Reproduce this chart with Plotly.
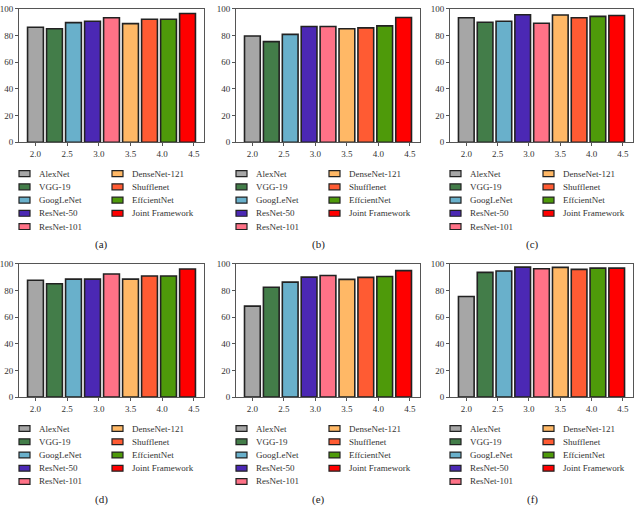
import plotly.graph_objects as go

W, H = 635, 510

models = ["AlexNet", "VGG-19", "GoogLeNet", "ResNet-50", "ResNet-101",
          "DenseNet-121", "Shufflenet", "EffcientNet", "Joint Framework"]
colors = ["#a6a6a6", "#437d49", "#69b0cb", "#4b28b4", "#ff7287",
          "#ffb866", "#ff5b33", "#4e9a0a", "#ff0000"]
bar_x = [2.0, 2.3, 2.6, 2.9, 3.2, 3.5, 3.8, 4.1, 4.4]
tick_vals = [2.0, 2.5, 3.0, 3.5, 4.0, 4.5]
tick_text = ["2.0", "2.5", "3.0", "3.5", "4.0", "4.5"]

acc_a = [86.3, 85.1, 89.7, 90.7, 93.4, 89.0, 92.2, 92.2, 96.6]
acc_b = [79.7, 75.5, 80.9, 86.8, 86.8, 85.1, 85.8, 87.3, 93.6]
acc_c = [93.4, 90.0, 90.7, 95.6, 89.2, 95.4, 93.4, 94.4, 95.1]
acc_d = [87.7, 85.0, 88.5, 88.5, 92.4, 88.5, 90.9, 90.9, 96.1]
acc_e = [68.3, 82.4, 86.3, 90.0, 91.2, 88.3, 89.8, 90.5, 94.9]
acc_f = [75.5, 93.6, 94.6, 97.5, 96.3, 97.3, 95.8, 96.8, 96.8]

panels = [("(a)", acc_a), ("(b)", acc_b), ("(c)", acc_c),
          ("(d)", acc_d), ("(e)", acc_e), ("(f)", acc_f)]

# panel boxes in pixels
col_px = [(19, 204), (236, 420), (450, 633)]
row_px = [(4, 140), (264, 400)]

FONT = "Liberation Serif"
AX = "#555555"


def px(x):
    return x / W


def py(y):
    return 1 - y / H


fig = go.Figure()
shapes = []
annotations = []

for k, (label, vals) in enumerate(panels):
    r, c = divmod(k, 3)
    left, right = col_px[c]
    top, bottom = row_px[r]
    n = "" if k == 0 else str(k + 1)

    fig.add_trace(go.Bar(
        x=bar_x, y=vals, width=0.25,
        marker=dict(color=colors, line=dict(color="#222222", width=1.6)),
        xaxis="x" + n, yaxis="y" + n, showlegend=False,
        hovertext=models,
    ))

    fig.update_layout(**{
        "xaxis" + n: dict(
            domain=[px(left), px(right)], anchor="y" + n,
            range=[1.74, 4.66], tickvals=tick_vals, ticktext=tick_text,
            showline=True, linecolor=AX, linewidth=1, mirror=True,
            ticks="outside", ticklen=3, tickcolor=AX, showgrid=False,
            zeroline=False, tickfont=dict(family=FONT, size=9, color="#333"),
        ),
        "yaxis" + n: dict(
            domain=[py(bottom), py(top)], anchor="x" + n,
            range=[0, 100], dtick=20,
            showline=True, linecolor=AX, linewidth=1, mirror=True,
            ticks="outside", ticklen=3, tickcolor=AX, showgrid=False,
            zeroline=False, tickfont=dict(family=FONT, size=9, color="#333"),
        ),
    })

    # legend below each panel, two columns
    for i, name in enumerate(models):
        col = 0 if i < 5 else 1
        row = i if i < 5 else i - 5
        yc = bottom + 32 + row * 13.5
        sx = left + (0 if col == 0 else 93)
        tx = left + (18 if col == 0 else 111)
        shapes.append(dict(
            type="rect", xref="paper", yref="paper",
            x0=px(sx), x1=px(sx + 11), y0=py(yc + 3), y1=py(yc - 3),
            fillcolor=colors[i], line=dict(color="#222222", width=1.2),
        ))
        annotations.append(dict(
            x=px(tx), y=py(yc), xref="paper", yref="paper",
            text=name, showarrow=False, xanchor="left", yanchor="middle",
            font=dict(family=FONT, size=9, color="#333"),
        ))

    annotations.append(dict(
        x=px(left + 82), y=py(bottom + 104), xref="paper", yref="paper",
        text=label, showarrow=False, xanchor="center", yanchor="middle",
        font=dict(family=FONT, size=11, color="#222"),
    ))

fig.update_layout(
    width=W, height=H,
    margin=dict(l=0, r=0, t=0, b=0),
    paper_bgcolor="white", plot_bgcolor="white",
    shapes=shapes, annotations=annotations,
    font=dict(family=FONT),
)

# drop the browser's default page margin so the figure fills the window
fig.write_html("out.html", config={"displayModeBar": False},
               post_script="document.body.style.margin='0';")
